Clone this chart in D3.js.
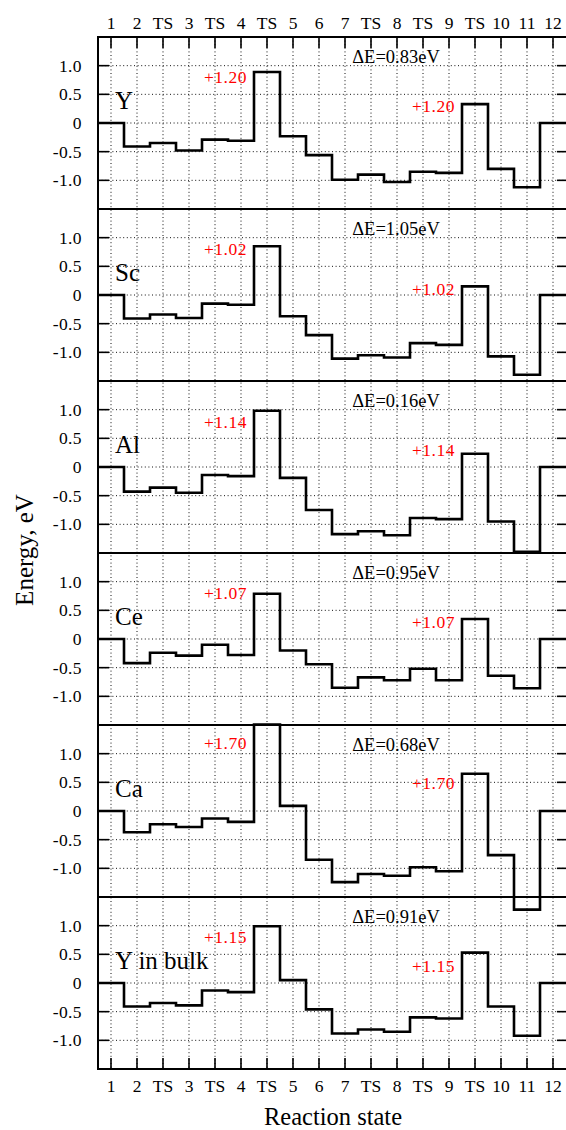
<!DOCTYPE html>
<html>
<head>
<meta charset="utf-8">
<script src="https://cdn.jsdelivr.net/npm/d3@7"></script>
<style>
  body { margin: 0; background: #fff; }
  text { font-family: "Liberation Serif", "Times New Roman", serif; }
</style>
</head>
<body>
<div id="chart"></div>
<script>

// reaction path: states and transition states
var states = ["1", "2", "TS", "3", "TS", "4", "TS", "5", "6", "7", "TS", "8", "TS", "9", "TS", "10", "11", "12"];

var systems = ["Y", "Sc", "Al", "Ce", "Ca", "Y in bulk"];

// energies (eV), one value per state
var energyY      = [0, -0.41, -0.35, -0.48, -0.29, -0.31, 0.89, -0.23, -0.56, -0.99, -0.90, -1.03, -0.85, -0.87, 0.33, -0.80, -1.12, 0];
var energySc     = [0, -0.41, -0.34, -0.40, -0.15, -0.17, 0.85, -0.37, -0.70, -1.11, -1.05, -1.09, -0.84, -0.87, 0.15, -1.07, -1.39, 0];
var energyAl     = [0, -0.43, -0.36, -0.45, -0.14, -0.16, 0.98, -0.19, -0.75, -1.17, -1.12, -1.19, -0.89, -0.91, 0.23, -0.95, -1.48, 0];
var energyCe     = [0, -0.42, -0.24, -0.29, -0.10, -0.28, 0.79, -0.20, -0.44, -0.85, -0.67, -0.72, -0.52, -0.72, 0.35, -0.64, -0.86, 0];
var energyCa     = [0, -0.37, -0.23, -0.28, -0.13, -0.19, 1.51, 0.09, -0.85, -1.24, -1.10, -1.13, -0.98, -1.05, 0.65, -0.77, -1.72, 0];
var energyYbulk  = [0, -0.41, -0.35, -0.39, -0.13, -0.16, 0.99, 0.05, -0.46, -0.88, -0.81, -0.85, -0.60, -0.62, 0.53, -0.41, -0.92, 0];

var profiles = [energyY, energySc, energyAl, energyCe, energyCa, energyYbulk];

var barriers = ["+1.20", "+1.02", "+1.14", "+1.07", "+1.70", "+1.15"];
var deltaE   = ["0.83", "1.05", "0.16", "0.95", "0.68", "0.91"];

// where the barrier notes sit (in eV) in each panel
var barrierAt1 = [0.70, 0.70, 0.68, 0.69, 1.09, 0.70];
var barrierAt2 = [0.19, 0.00, 0.19, 0.19, 0.39, 0.20];

var yTicks = [-1, -0.5, 0, 0.5, 1];
var yTickLabels = ["-1.0", "-0.5", "0", "0.5", "1.0"];

var W = 566, H = 1130;
var plotLeft = 98, plotRight = 566, plotTop = 37, panelH = 172;
var plotBottom = plotTop + panelH * systems.length;

var x = d3.scaleLinear()
    .domain([-0.5, states.length - 0.5])
    .range([plotLeft, plotRight]);

var svg = d3.select("#chart")
    .append("svg")
        .attr("width", W)
        .attr("height", H);

// vertical dotted grid through all panels
svg.append("g").selectAll("line")
    .data(states)
    .enter().append("line")
    .attr("x1", function(d, i) { return x(i); })
    .attr("x2", function(d, i) { return x(i); })
    .attr("y1", plotTop)
    .attr("y2", plotBottom)
    .attr("stroke", "#111")
    .attr("stroke-width", 1)
    .attr("stroke-dasharray", "1,2.6");

var line = d3.line()
    .x(function(d) { return x(d[0]); });

systems.forEach(function(sys, k) {
    var y0 = plotTop + panelH * k;
    var y = d3.scaleLinear()
        .domain([-1.5, 1.5])
        .range([y0 + panelH, y0]);

    var g = svg.append("g");

    // horizontal dotted grid
    g.selectAll(".hgrid")
        .data(yTicks)
        .enter().append("line")
        .attr("x1", plotLeft)
        .attr("x2", plotRight)
        .attr("y1", function(d) { return y(d); })
        .attr("y2", function(d) { return y(d); })
        .attr("stroke", "#111")
        .attr("stroke-width", 1)
        .attr("stroke-dasharray", "1,2.6");

    // y ticks, left and right
    g.selectAll(".lt")
        .data(yTicks)
        .enter().append("line")
        .attr("x1", plotLeft).attr("x2", plotLeft + 11)
        .attr("y1", function(d) { return y(d); })
        .attr("y2", function(d) { return y(d); })
        .attr("stroke", "#000").attr("stroke-width", 1.6);
    g.selectAll(".rt")
        .data(yTicks)
        .enter().append("line")
        .attr("x1", plotRight - 9).attr("x2", plotRight)
        .attr("y1", function(d) { return y(d); })
        .attr("y2", function(d) { return y(d); })
        .attr("stroke", "#000").attr("stroke-width", 1.6);

    g.selectAll(".yl")
        .data(yTicks)
        .enter().append("text")
        .attr("x", 82)
        .attr("y", function(d) { return y(d); })
        .attr("dy", "0.35em")
        .attr("text-anchor", "end")
        .attr("font-size", 17.5)
        .attr("letter-spacing", 0.4)
        .text(function(d, i) { return yTickLabels[i]; });

    // panel separator
    g.append("line")
        .attr("x1", plotLeft).attr("x2", plotRight)
        .attr("y1", y0 + panelH).attr("y2", y0 + panelH)
        .attr("stroke", "#000").attr("stroke-width", 2);

    // step profile: each state is a flat segment one unit wide
    var pts = [];
    profiles[k].forEach(function(v, i) {
        pts.push([i - 0.5, v]);
        pts.push([i + 0.5, v]);
    });
    g.append("path")
        .datum(pts)
        .attr("d", line.y(function(d) { return y(d[1]); }))
        .attr("fill", "none")
        .attr("stroke", "#000")
        .attr("stroke-width", 2.6)
        .attr("stroke-linejoin", "miter");

    g.append("text")
        .attr("x", 115)
        .attr("y", y(0) - 14)
        .attr("font-size", 25)
        .text(sys);

    g.append("text")
        .attr("x", x(11) - 1)
        .attr("y", y0 + 25.5)
        .attr("text-anchor", "middle")
        .attr("font-size", 18.5)
        .text("\u0394E=" + deltaE[k] + "eV");

    g.append("text")
        .attr("x", x(5) + 6)
        .attr("y", y(barrierAt1[k]))
        .attr("text-anchor", "end")
        .attr("font-size", 17.5)
        .attr("letter-spacing", 0.5)
        .attr("fill", "#ff0000")
        .text(barriers[k]);

    g.append("text")
        .attr("x", x(13) + 6)
        .attr("y", y(barrierAt2[k]))
        .attr("text-anchor", "end")
        .attr("font-size", 17.5)
        .attr("letter-spacing", 0.5)
        .attr("fill", "#ff0000")
        .text(barriers[k]);
});

// frame: top and left
svg.append("line")
    .attr("x1", plotLeft).attr("x2", plotRight)
    .attr("y1", plotTop).attr("y2", plotTop)
    .attr("stroke", "#000").attr("stroke-width", 2);
svg.append("line")
    .attr("x1", plotLeft).attr("x2", plotLeft)
    .attr("y1", plotTop - 1).attr("y2", plotBottom + 1)
    .attr("stroke", "#000").attr("stroke-width", 2);

// x ticks top and bottom
var xt = svg.append("g");
xt.selectAll(".tt")
    .data(states)
    .enter().append("line")
    .attr("x1", function(d, i) { return x(i); })
    .attr("x2", function(d, i) { return x(i); })
    .attr("y1", plotTop).attr("y2", plotTop + 11)
    .attr("stroke", "#000").attr("stroke-width", 1.6);
xt.selectAll(".bt")
    .data(states)
    .enter().append("line")
    .attr("x1", function(d, i) { return x(i); })
    .attr("x2", function(d, i) { return x(i); })
    .attr("y1", plotBottom - 11).attr("y2", plotBottom)
    .attr("stroke", "#000").attr("stroke-width", 1.6);

xt.selectAll(".tl")
    .data(states)
    .enter().append("text")
    .attr("x", function(d, i) { return x(i); })
    .attr("y", 29)
    .attr("text-anchor", "middle")
    .attr("font-size", 17.5)
    .text(function(d) { return d; });
xt.selectAll(".bl")
    .data(states)
    .enter().append("text")
    .attr("x", function(d, i) { return x(i); })
    .attr("y", 1092)
    .attr("text-anchor", "middle")
    .attr("font-size", 17.5)
    .text(function(d) { return d; });

svg.append("text")
    .attr("x", 333)
    .attr("y", 1125)
    .attr("text-anchor", "middle")
    .attr("font-size", 24.5)
    .text("Reaction state");

svg.append("text")
    .attr("transform", "translate(33,550) rotate(-90)")
    .attr("text-anchor", "middle")
    .attr("font-size", 25)
    .text("Energy, eV");

</script>
</body>
</html>
